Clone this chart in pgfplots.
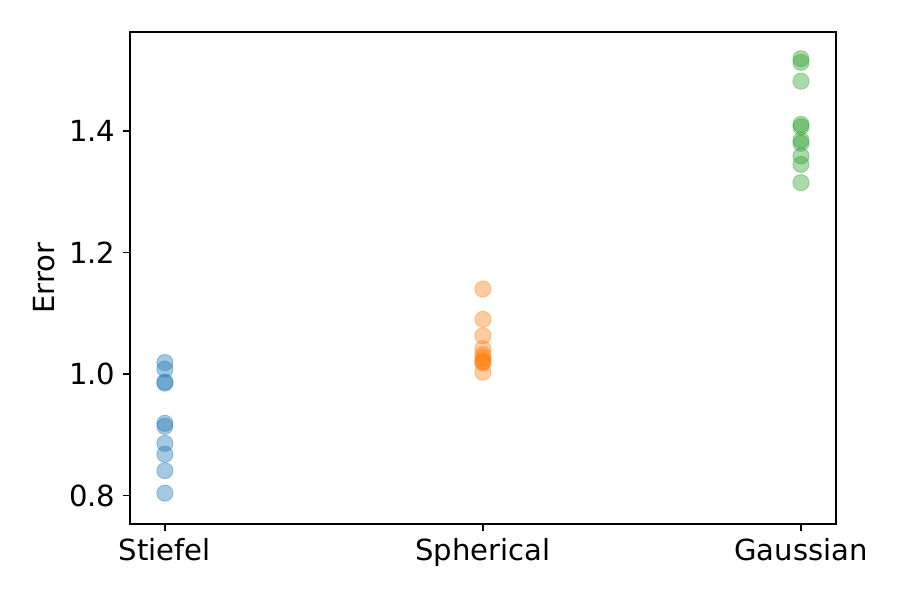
\documentclass[border=0pt]{standalone}
\usepackage{fontspec}
\setmainfont{DejaVu Sans}
\usepackage{pgfplots}
\pgfplotsset{compat=1.18}
\definecolor{c0}{HTML}{1F77B4}
\definecolor{c1}{HTML}{FF7F0E}
\definecolor{c2}{HTML}{2CA02C}
\begin{document}
\begin{tikzpicture}
\begin{axis}[
  scale only axis,
  width=340pt, height=237pt,
  xmin=-0.11, xmax=2.11,
  ymin=0.753, ymax=1.563,
  xtick={0,1,2},
  xticklabels={Stiefel,Spherical,Gaussian},
  ytick={0.8,1.0,1.2,1.4},
  yticklabel style={/pgf/number format/.cd,fixed,fixed zerofill,precision=1},
  /pgf/number format/assume math mode=true,
  tick label style={font=\fontsize{14}{16}\selectfont},
  ylabel={Error},
  ylabel style={font=\fontsize{14}{16}\selectfont},
  tick align=outside,
  tick pos=left,
  major tick length=3.5pt,
  every tick/.style={black, line width=0.8pt},
  axis line style={line width=0.8pt},
  clip=false,
]
\addplot[only marks, mark=*, mark size=3.9pt, color=c0, mark options={fill=c0, fill opacity=0.4, draw opacity=0.4}] coordinates {
(0,1.019) (0,1.008) (0,0.987) (0,0.985) (0,0.919) (0,0.914) (0,0.886) (0,0.868) (0,0.841) (0,0.804)
};
\addplot[only marks, mark=*, mark size=3.9pt, color=c1, mark options={fill=c1, fill opacity=0.4, draw opacity=0.4}] coordinates {
(1,1.140) (1,1.090) (1,1.063) (1,1.042) (1,1.032) (1,1.027) (1,1.022) (1,1.020) (1,1.018) (1,1.003)
};
\addplot[only marks, mark=*, mark size=3.9pt, color=c2, mark options={fill=c2, fill opacity=0.4, draw opacity=0.4}] coordinates {
(2,1.519) (2,1.513) (2,1.482) (2,1.411) (2,1.407) (2,1.385) (2,1.380) (2,1.359) (2,1.345) (2,1.315)
};
\path (rel axis cs:-0.184,-0.1545) rectangle (rel axis cs:1.0907,1.065);
\end{axis}
\end{tikzpicture}
\end{document}
